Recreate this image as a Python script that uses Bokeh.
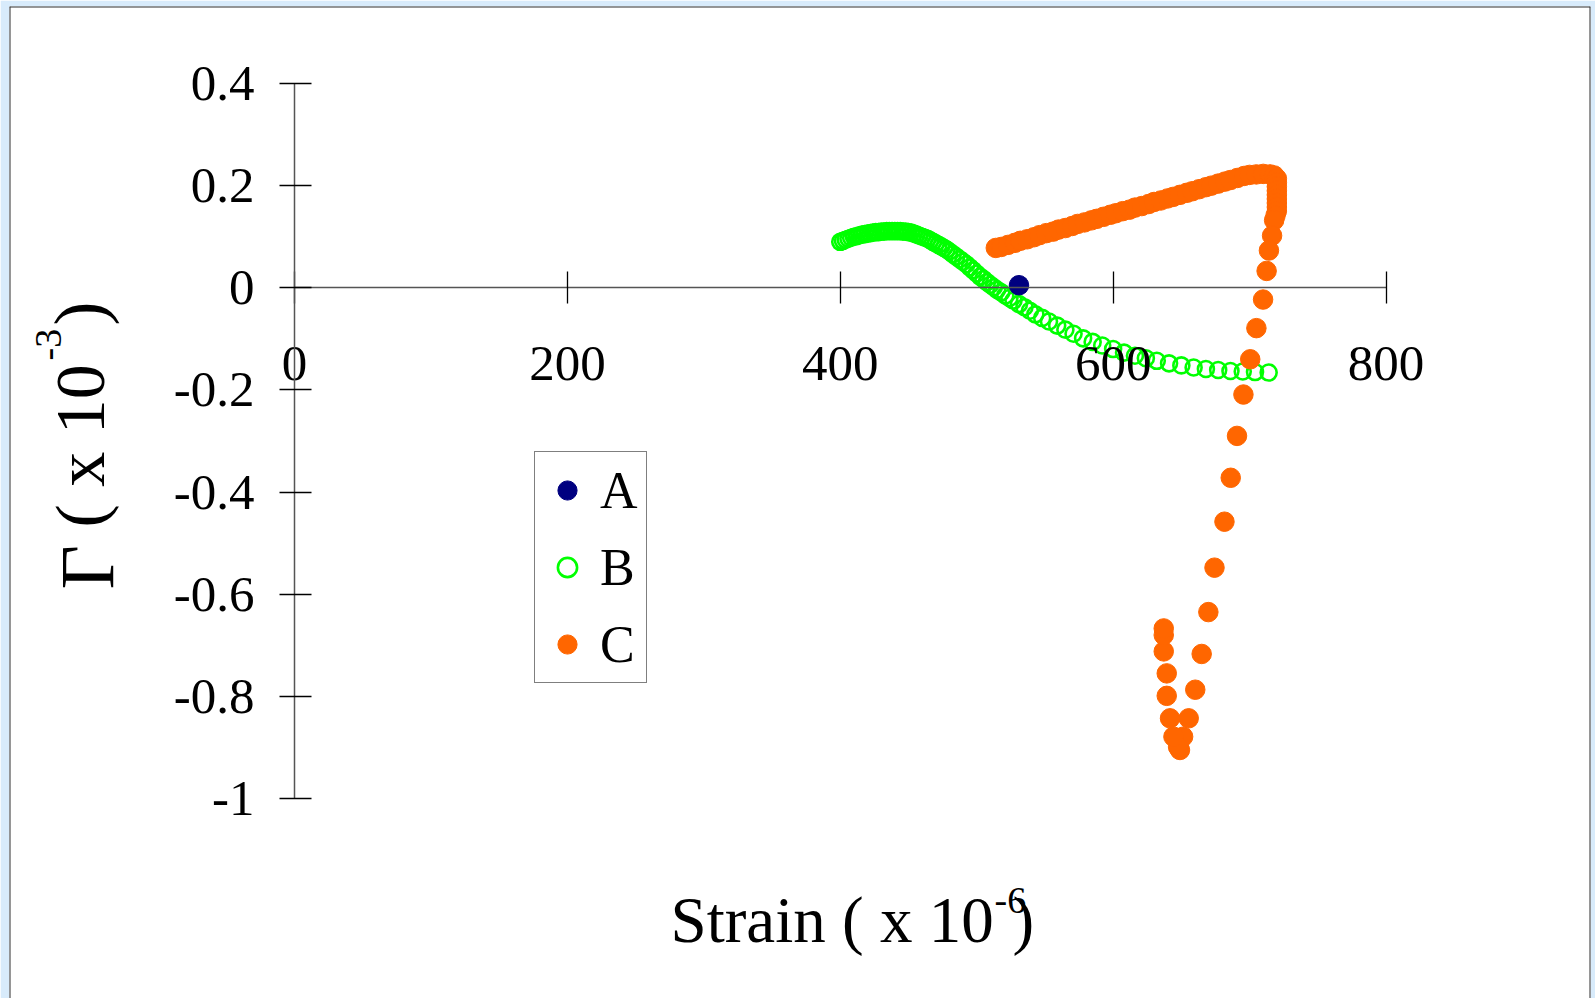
import math
from bokeh.plotting import figure
from bokeh.models import (Range1d, LinearAxis, FixedTicker, CustomJSTickFormatter,
                          Legend, LegendItem, Label, Span)
from bokeh.embed import file_html
from bokeh.resources import INLINE

# ---------------- data ----------------
series_names = ["A", "B", "C"]

a_x = [531]
a_y = [0.005]

b_x = [400, 402, 404, 406, 408, 410, 412, 414, 416, 418, 420, 422, 424, 426, 428, 430,
       432, 434, 436, 438, 440, 442, 444, 446, 448, 450, 452, 454, 456, 458, 460, 462,
       464, 466, 468, 470, 472, 474, 476, 478, 480, 482.5, 485, 487.5, 490, 492.5, 495,
       497.5, 500, 502.5, 505, 507.5, 510, 512.5, 515, 518, 521, 524, 527, 531, 535, 539,
       543, 548, 553, 559, 565, 571, 578, 585, 592, 600, 608, 616, 624, 632, 641, 650,
       659, 668, 677, 686, 695, 704, 714]
b_y = [0.090, 0.092, 0.094, 0.096, 0.098, 0.100, 0.101, 0.103, 0.104, 0.105, 0.106, 0.107,
       0.108, 0.109, 0.109, 0.110, 0.110, 0.111, 0.111, 0.111, 0.111, 0.111, 0.111, 0.110,
       0.110, 0.109, 0.108, 0.106, 0.104, 0.102, 0.100, 0.098, 0.096, 0.093, 0.090, 0.087,
       0.084, 0.081, 0.078, 0.075, 0.071, 0.066, 0.061, 0.056, 0.051, 0.046, 0.040, 0.034,
       0.028, 0.022, 0.017, 0.011, 0.006, 0.001, -0.004, -0.009, -0.015, -0.020, -0.025,
       -0.032, -0.038, -0.045, -0.052, -0.059, -0.066, -0.074, -0.082, -0.090, -0.099,
       -0.106, -0.113, -0.120, -0.127, -0.133, -0.138, -0.143, -0.148, -0.152, -0.156,
       -0.159, -0.161, -0.163, -0.164, -0.165, -0.166]

c_x = [514, 518, 523, 528, 532, 537, 542, 546, 551, 556, 560, 565, 570, 574, 579, 584,
       588, 593, 598, 602, 607, 612, 616, 621, 626, 630, 635, 640, 644, 649, 654, 658,
       663, 668, 672, 677, 682, 686, 691, 696, 700, 705, 710, 715, 718,
       720, 720, 720, 720, 720, 720, 720, 720, 720, 719, 718,
       716.5, 714.2, 712.5, 709.9, 705.0, 700.5, 695.5, 690.8, 686.2, 681.6, 674.3, 669.8,
       664.9, 660.2, 655.4, 651.3, 649.0, 647.6, 644.2, 641.7, 639.3, 639.3, 637.1, 637.1,
       637.1]
c_y = [0.078, 0.080, 0.084, 0.088, 0.092, 0.095, 0.099, 0.103, 0.107, 0.110, 0.114, 0.117,
       0.121, 0.125, 0.128, 0.132, 0.135, 0.139, 0.143, 0.146, 0.150, 0.153, 0.157, 0.160,
       0.164, 0.168, 0.171, 0.175, 0.178, 0.182, 0.186, 0.189, 0.193, 0.197, 0.200, 0.204,
       0.208, 0.211, 0.215, 0.219, 0.221, 0.222, 0.223, 0.222, 0.220,
       0.214, 0.206, 0.198, 0.190, 0.182, 0.174, 0.166, 0.158, 0.150, 0.141, 0.132,
       0.102, 0.073, 0.033, -0.023, -0.079, -0.140, -0.209, -0.290, -0.372, -0.458, -0.548,
       -0.635, -0.717, -0.787, -0.843, -0.879, -0.905, -0.899, -0.879, -0.843, -0.799,
       -0.755, -0.712, -0.680, -0.667]

x_ticks = [0, 200, 400, 600, 800]
y_ticks = [-1, -0.8, -0.6, -0.4, -0.2, 0, 0.2, 0.4]

color_a = "#000080"
color_b = "#00ff00"
color_c = "#ff6600"

# ---------------- layout (page pixels) ----------------
W, H = 1595, 998
FL, FT, FR, FB = 9, 6, 1590, 998          # white panel = plot frame
X0_PX, X800_PX = 294.0, 1385.5            # x = 0 and x = 800
Y04_PX, YM1_PX = 83.0, 798.0              # y = 0.4 and y = -1

sx = (X800_PX - X0_PX) / 800.0
sy = (YM1_PX - Y04_PX) / 1.4
x_start = (FL - X0_PX) / sx
x_end = (FR - X0_PX) / sx
y_end = 0.4 + (Y04_PX - FT) / sy
y_start = 0.4 - (FB - Y04_PX) / sy
Y0_PX = Y04_PX + 0.4 * sy


def dx(px):
    return (px - X0_PX) / sx


def dy(py):
    return (Y0_PX - py) / sy


p = figure(width=W, height=H,
           x_range=Range1d(x_start, x_end), y_range=Range1d(y_start, y_end),
           x_axis_type=None, y_axis_type=None,
           toolbar_location=None, output_backend="svg",
           min_border_left=FL, min_border_top=FT,
           min_border_right=W - FR, min_border_bottom=H - FB,
           background_fill_color="white", border_fill_color="#d8ebfb",
           outline_line_color=None)
p.grid.visible = False

# panel border (left, right, top only)
for loc, dim in ((x_start, "height"), (x_end, "height"), (y_end, "width")):
    p.add_layout(Span(location=loc, dimension=dim, line_color="#2e2e2e", line_width=2))

SERIF = "Liberation Serif"

xaxis = LinearAxis(fixed_location=0, bounds=(0, 800), ticker=FixedTicker(ticks=x_ticks))
yaxis = LinearAxis(fixed_location=0, bounds=(-1, 0.4), ticker=FixedTicker(ticks=y_ticks),
                   formatter=CustomJSTickFormatter(code="return String(Math.round(tick*10)/10)"))
for ax in (xaxis, yaxis):
    ax.axis_line_color = "#555555"
    ax.axis_line_width = 1.5
    ax.major_tick_line_color = "black"
    ax.major_tick_line_width = 1.3
    ax.minor_tick_line_color = None
    ax.major_label_text_font = SERIF
    ax.major_label_text_font_size = "51px"
    ax.major_label_text_color = "black"
xaxis.major_tick_in = 16
xaxis.major_tick_out = 16
xaxis.major_label_standoff = 43
yaxis.major_tick_in = 17
yaxis.major_tick_out = 15
yaxis.major_label_standoff = 25
p.add_layout(xaxis, "below")
p.add_layout(yaxis, "left")

rb = p.scatter(b_x, b_y, marker="circle", size=16, fill_color=None,
               line_color=color_b, line_width=2.6)
rc = p.scatter(c_x, c_y, marker="circle", size=19.5, fill_color=color_c, line_color=color_c)
ra = p.scatter(a_x, a_y, marker="circle", size=19.5, fill_color=color_a, line_color=color_a)

legend = Legend(items=[LegendItem(label=series_names[0], renderers=[ra]),
                       LegendItem(label=series_names[1], renderers=[rb]),
                       LegendItem(label=series_names[2], renderers=[rc])],
                location=(534 - FL, FB - 683), orientation="vertical",
                border_line_color="black", border_line_width=1,
                background_fill_color="white", background_fill_alpha=1.0,
                label_text_font=SERIF, label_text_font_size="52px",
                label_text_color="black",
                glyph_width=48, glyph_height=60, label_height=60,
                label_standoff=9, spacing=17, padding=8, margin=0)
p.add_layout(legend, "center")

# axis titles (baseline positions in page pixels; Bokeh draws labels ~0.354 em lower)
SHIFT = 0.354


def htext(bx, by, text, size):
    p.add_layout(Label(x=dx(bx), y=dy(by - SHIFT * size), text=text, text_font=SERIF,
                       text_font_size=f"{size}px", text_align="left",
                       text_baseline="alphabetic", text_color="black"))


def vtext(bx, by, text, size):
    p.add_layout(Label(x=dx(bx - SHIFT * size), y=dy(by), text=text, text_font=SERIF,
                       text_font_size=f"{size}px", text_align="left",
                       text_baseline="alphabetic", angle=math.pi / 2, text_color="black"))


htext(670, 943, "Strain ( x 10", 65)
htext(994, 913, "-6", 38)
htext(1012, 943, ")", 65)

vtext(114, 589, "\u0393", 77)
vtext(105, 527, "( x 10", 70)
vtext(61, 360, "-3", 38)
vtext(105, 325, ")", 72)

open("out.html", "w").write(file_html(p, INLINE))
